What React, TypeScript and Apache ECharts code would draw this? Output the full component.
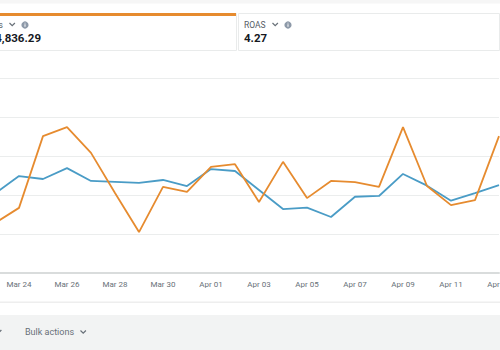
import React, { useEffect, useRef } from "react";
import * as echarts from "echarts";

const categories = [
  "Mar 23", "Mar 24", "Mar 25", "Mar 26", "Mar 27", "Mar 28", "Mar 29", "Mar 30", "Mar 31",
  "Apr 01", "Apr 02", "Apr 03", "Apr 04", "Apr 05", "Apr 06", "Apr 07", "Apr 08", "Apr 09",
  "Apr 10", "Apr 11", "Apr 12", "Apr 13",
];

// Sales (orange, left axis)
const salesValues = [
  128, 167, 351, 374, 308, 205, 105, 221, 208, 272, 279, 182, 285, 192, 236, 233, 221, 374,
  223, 174, 187, 351,
];

// ROAS (blue, right axis)
const roasValues = [
  4.08, 4.97, 4.82, 5.38, 4.72, 4.67, 4.62, 4.77, 4.46, 5.33, 5.23, 4.26, 3.28, 3.35, 2.87,
  3.91, 3.95, 5.08, 4.48, 3.71, 4.1, 4.51,
];

const salesTotal = "$4,836.29";
const roasTotal = "4.27";

const OFF = 60;
const CW = 620;
const CH = 350;
const FONT = "Roboto, 'Noto Sans', sans-serif";

export default function App() {
  const ref = useRef<HTMLDivElement>(null);

  useEffect(() => {
    if (!ref.current) return;
    const chart = echarts.init(ref.current, undefined, { renderer: "svg" });
    const chev = (x: number, y: number) => ({
      type: "polyline",
      shape: { points: [[x, y], [x + 2.7, y + 2.7], [x + 5.4, y]] },
      style: { stroke: "#687078", lineWidth: 1.2, fill: null },
    });
    const info = (x: number, y: number) => [
      { type: "circle", shape: { cx: x, cy: y, r: 3.6 }, style: { fill: "#8d99a8" } },
      { type: "rect", shape: { x: x - 0.5, y: y - 0.8, width: 1, height: 2.6 }, style: { fill: "#fff" } },
      { type: "rect", shape: { x: x - 0.5, y: y - 2.3, width: 1, height: 0.9 }, style: { fill: "#fff" } },
    ];
    chart.setOption({
      animation: false,
      backgroundColor: "#ffffff",
      grid: { left: OFF - 5, right: CW - (OFF + 499), top: 78, bottom: CH - 273, containLabel: false },
      xAxis: {
        type: "category",
        data: categories,
        boundaryGap: false,
        axisTick: { show: false },
        axisLine: { lineStyle: { color: "#d9dcdc", width: 2 } },
        axisLabel: {
          interval: (i: number) => i % 2 === 1,
          color: "#687078",
          fontSize: 8,
          fontFamily: FONT,
          margin: 7,
        },
        splitLine: { show: false },
      },
      yAxis: [
        {
          type: "value",
          min: 0,
          max: 500,
          interval: 100,
          axisLabel: { show: false },
          axisLine: { show: false },
          axisTick: { show: false },
          splitLine: { lineStyle: { color: "#ebeded", width: 1 } },
        },
        {
          type: "value",
          min: 0,
          max: 10,
          interval: 2,
          axisLabel: { show: false },
          axisLine: { show: false },
          axisTick: { show: false },
          splitLine: { show: false },
        },
      ],
      series: [
        {
          name: "ROAS",
          type: "line",
          yAxisIndex: 1,
          data: roasValues,
          showSymbol: false,
          lineStyle: { color: "#4a9cc6", width: 1.8 },
          itemStyle: { color: "#4a9cc6" },
        },
        {
          name: "Sales",
          type: "line",
          yAxisIndex: 0,
          data: salesValues,
          showSymbol: false,
          lineStyle: { color: "#e68b2f", width: 1.8 },
          itemStyle: { color: "#e68b2f" },
        },
      ],
      graphic: [
        {
          type: "group",
          x: OFF,
          y: 0,
          children: [
            { type: "rect", shape: { x: -OFF, y: 0, width: 600, height: 3.5 }, style: { fill: "#f6f6f6" } },
            // card 1
            {
              type: "rect",
              shape: { x: -20, y: 13.5, width: 256.5, height: 37 },
              style: { fill: "#fff", stroke: "#e9ebeb", lineWidth: 1 },
            },
            { type: "rect", shape: { x: -20, y: 13, width: 256, height: 3 }, style: { fill: "#e68b2f" } },
            {
              type: "text",
              x: 2.8,
              y: 25,
              style: { text: "Sales", fontSize: 8.5, fontFamily: FONT, fill: "#545b64", align: "right", verticalAlign: "middle" },
            },
            chev(9.5, 23),
            ...info(25, 25),
            {
              type: "text",
              x: 41,
              y: 37.8,
              style: { text: salesTotal, fontSize: 11.5, fontWeight: "bold", fontFamily: FONT, fill: "#16191f", align: "right", verticalAlign: "middle" },
            },
            // card 2
            {
              type: "rect",
              shape: { x: 238.5, y: 13.5, width: 261, height: 37 },
              style: { fill: "#fff", stroke: "#e9ebeb", lineWidth: 1 },
            },
            {
              type: "text",
              x: 244,
              y: 25,
              style: { text: "ROAS", fontSize: 8.5, fontFamily: FONT, fill: "#545b64", align: "left", verticalAlign: "middle" },
            },
            chev(272.5, 23),
            ...info(288, 25),
            {
              type: "text",
              x: 244,
              y: 37.8,
              style: { text: roasTotal, fontSize: 11.5, fontWeight: "bold", fontFamily: FONT, fill: "#16191f", align: "left", verticalAlign: "middle" },
            },
            // bottom
            { type: "rect", shape: { x: -OFF, y: 301.5, width: 600, height: 1.5 }, style: { fill: "#eeeeee" } },
            { type: "rect", shape: { x: -OFF, y: 315, width: 600, height: 40 }, style: { fill: "#f2f3f3" } },
            chev(-4, 330),
            {
              type: "text",
              x: 25,
              y: 332,
              style: { text: "Bulk actions", fontSize: 9, fontFamily: FONT, fill: "#687078", align: "left", verticalAlign: "middle" },
            },
            chev(80.5, 330.5),
          ],
        },
      ],
    });
    return () => chart.dispose();
  }, []);

  return (
    <div style={{ position: "fixed", left: 0, top: 0, width: 500, height: 350, overflow: "hidden", background: "#fff" }}>
      <div ref={ref} style={{ position: "absolute", left: -OFF, top: 0, width: CW, height: CH }} />
    </div>
  );
}
